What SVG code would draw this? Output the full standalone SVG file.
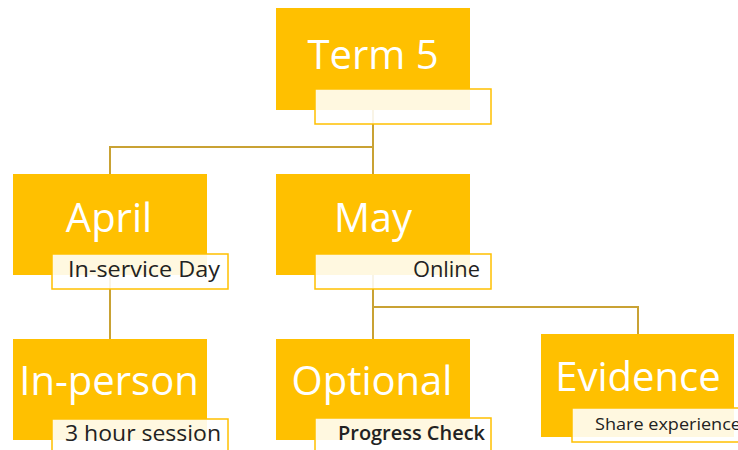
<svg xmlns="http://www.w3.org/2000/svg" width="738" height="450" viewBox="0 0 738 450">
<style>
.main{fill:#FFC000;}
.sub{fill:#FFFFFF;fill-opacity:0.88;stroke:#FFC000;stroke-width:1.5;}
.t{font-family:"Open Sans","DejaVu Sans",sans-serif;font-size:40px;fill:#FFFFFF;text-anchor:middle;}
.s{font-family:"Open Sans","DejaVu Sans",sans-serif;font-size:21px;fill:#222222;}
.c{fill:none;stroke:#C9A234;stroke-width:2;}
</style>
<rect width="738" height="450" fill="#FFFFFF"/>
<g id="connectors">
<path class="c" d="M373,110 V147 H110 V174"/>
<path class="c" d="M373,147 V174"/>
<path class="c" d="M110,275 V339"/>
<path class="c" d="M373,275 V339"/>
<path class="c" d="M373,307 H638 V334"/>
</g>
<g id="term5">
<rect class="main" x="276" y="8" width="194" height="102"/>
<text class="t" x="373" y="69">Term 5</text>
<rect class="sub" x="315" y="89" width="176" height="35"/>
</g>
<g id="april">
<rect class="main" x="13" y="174" width="194" height="101"/>
<text class="t" x="109" y="232">April</text>
<rect class="sub" x="52" y="254" width="176" height="35"/>
<text class="s" x="68" y="277" textLength="152" lengthAdjust="spacingAndGlyphs">In-service Day</text>
</g>
<g id="may">
<rect class="main" x="276" y="174" width="194" height="101"/>
<text class="t" x="373" y="232">May</text>
<rect class="sub" x="315" y="254" width="176" height="35"/>
<text class="s" x="413" y="277" textLength="67" lengthAdjust="spacingAndGlyphs">Online</text>
</g>
<g id="inperson">
<rect class="main" x="13" y="339" width="194" height="101"/>
<text class="t" x="109" y="395">In-person</text>
<rect class="sub" x="52" y="419" width="176" height="35"/>
<text class="s" x="65" y="441" textLength="156" lengthAdjust="spacingAndGlyphs">3 hour session</text>
</g>
<g id="optional">
<rect class="main" x="276" y="339" width="194" height="101"/>
<text class="t" x="372" y="395">Optional</text>
<rect class="sub" x="315" y="418" width="176" height="35"/>
<text class="s" x="338" y="440" style="font-size:19px;font-weight:600" textLength="147" lengthAdjust="spacingAndGlyphs">Progress Check</text>
</g>
<g id="evidence">
<rect class="main" x="541" y="334" width="193" height="103"/>
<text class="t" x="638" y="391">Evidence</text>
<rect class="sub" x="572" y="408" width="176" height="34"/>
<text class="s" x="595" y="430" style="font-size:17px" textLength="146" lengthAdjust="spacingAndGlyphs">Share experience</text>
</g>
</svg>
